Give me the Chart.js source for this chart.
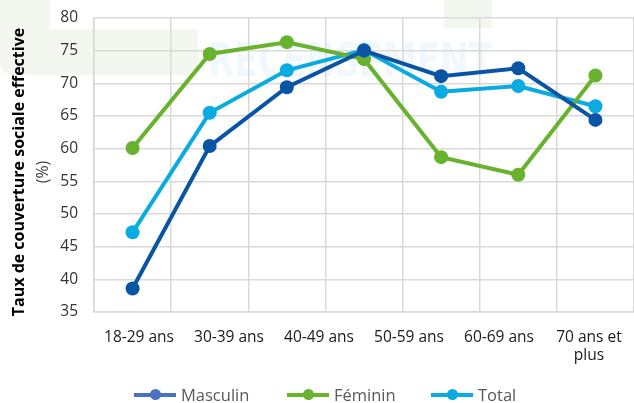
<!DOCTYPE html>
<html>
<head>
<meta charset="utf-8">
<script src="https://cdn.jsdelivr.net/npm/chart.js@4"></script>
<style>
    html, body { margin: 0; padding: 0; background: #fff; }
    body { width: 634px; height: 403px; overflow: hidden; position: relative; font-family: "Open Sans", sans-serif; }
    #chart { position: absolute; left: 0; top: 0; }
    .ytitle { position: absolute; white-space: nowrap; transform: translate(-50%, -50%) rotate(-90deg); color: #000; font-size: 15.5px; }
    #legend { position: absolute; top: 383px; left: 0; width: 634px; height: 24px; font-size: 16.5px; color: #595959; }
    .item { position: absolute; top: 0; line-height: 24px; }
    .mark { position: absolute; top: 10px; width: 42px; height: 4px; }
    .mark i { position: absolute; left: 16px; top: -4px; width: 11px; height: 11px; border-radius: 50%; }
    .lbl { position: absolute; left: 47px; top: 0; }
</style>
</head>
<body>
<canvas id="chart" width="641" height="403"></canvas>
<div class="ytitle" style="left:18px; top:172px; font-weight:bold; font-size:16px;">Taux de couverture sociale effective</div>
<div class="ytitle" style="left:42px; top:172px; color:#404040; font-size:16px;">(%)</div>
<div id="legend"></div>
<script>
// data points (7 per series)
var categories = ["1", "2", "3", "4", "5", "6", "7"];
var tickLabels = ["18-29 ans", "30-39 ans", "40-49 ans", "50-59 ans", "60-69 ans", ["70 ans et", "plus"]];
var masculin = [38.6, 60.4, 69.4, 75.0, 71.1, 72.3, 64.4];
var feminin = [60.1, 74.5, 76.3, 73.7, 58.7, 56.0, 71.2];
var total = [47.2, 65.5, 72.0, 75.1, 68.7, 69.6, 66.5];
var seriesNames = ["Masculin", "Féminin", "Total"];
var seriesColors = ["#0a55a3", "#69b22e", "#0aabe0"];
var legendColors = ["#4a72c0", "#69b22e", "#0aabe0"];

// pale decorations and watermark behind the plot
var backdrop = {
    id: "backdrop",
    beforeDraw: function (chart) {
        var c = chart.ctx;
        c.save();
        c.fillStyle = "#f4f7ef";
        c.beginPath();
        c.moveTo(0, 0);
        c.lineTo(50, 0);
        c.lineTo(50, 29);
        c.lineTo(198, 29);
        c.lineTo(198, 75);
        c.lineTo(14, 75);
        c.quadraticCurveTo(0, 75, 0, 60);
        c.closePath();
        c.fill();
        c.fillRect(444, 0, 48, 28);
        c.font = "bold 46px 'DejaVu Sans'";
        c.fillStyle = "#f1f8fd";
        var w = c.measureText("RECENSEMENT").width;
        c.translate(208, 76);
        c.scale(284 / w, 1);
        c.textBaseline = "alphabetic";
        c.fillText("RECENSEMENT", 0, 0);
        c.restore();
    }
};

function makeSet(i, values) {
    return {
        label: seriesNames[i],
        data: values,
        borderColor: seriesColors[i],
        backgroundColor: seriesColors[i],
        borderWidth: 4,
        pointRadius: 7,
        pointHoverRadius: 7,
        pointBorderWidth: 0,
        tension: 0,
        xAxisID: "x"
    };
}

var chart = new Chart(document.getElementById("chart"), {
    type: "line",
    data: {
        labels: categories,
        datasets: [makeSet(0, masculin), makeSet(1, feminin), makeSet(2, total)]
    },
    plugins: [backdrop],
    options: {
        responsive: false,
        animation: false,
        layout: { padding: { top: 0, right: 0, bottom: 31, left: 0 } },
        plugins: { legend: { display: false }, tooltip: { enabled: false } },
        scales: {
            x: {
                type: "category",
                position: "bottom",
                offset: true,
                grid: { color: "#d9d9d9", lineWidth: 1.5, offset: true, drawTicks: false },
                border: { color: "#d9d9d9", width: 1.5 },
                ticks: { display: false },
                afterFit: function (s) { s.height = 0; }
            },
            x2: {
                type: "category",
                position: "bottom",
                labels: tickLabels,
                offset: true,
                grid: { display: false, drawTicks: false },
                border: { display: false },
                ticks: { color: "#1a1a1a", font: { family: "Open Sans", size: 15.5 }, padding: 16, maxRotation: 0, autoSkip: false },
                afterFit: function (s) { s.height = 60; }
            },
            y: {
                min: 35,
                max: 80,
                ticks: { stepSize: 5, color: "#333", font: { family: "Open Sans", size: 15.5 }, padding: 16 },
                grid: { color: "#d9d9d9", lineWidth: 1.5, drawTicks: false },
                border: { color: "#d9d9d9", width: 1.5 },
                afterFit: function (s) {
                    s.width = 94;
                    s.paddingTop = 18;
                    s.paddingBottom = 0;
                }
            }
        }
    }
});

// legend built from the series
var lefts = [134, 287, 431];
var legend = document.getElementById("legend");
seriesNames.forEach(function (name, i) {
    var d = document.createElement("div");
    d.className = "item";
    d.style.left = lefts[i] + "px";
    d.innerHTML = '<span class="mark" style="background:' + legendColors[i] + '"><i style="background:' + legendColors[i] + '"></i></span><span class="lbl">' + name + '</span>';
    legend.appendChild(d);
});
</script>
</body>
</html>
